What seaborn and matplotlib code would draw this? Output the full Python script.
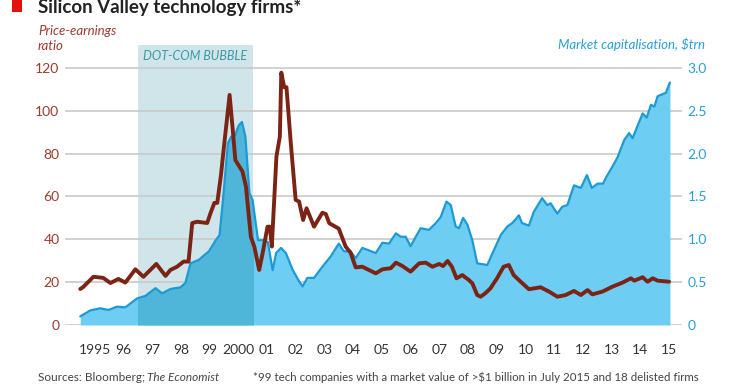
import numpy as np
import pandas as pd
import seaborn as sns
import matplotlib
matplotlib.use('Agg')
from matplotlib import pyplot as plt
from matplotlib.patches import Rectangle

# price-earnings ratio (left axis)
pe_year = [1995.0, 1995.1, 1995.46, 1995.8, 1996.05, 1996.33, 1996.57, 1996.92, 1997.2, 1997.65,
           1997.97, 1998.14, 1998.37, 1998.6, 1998.77, 1998.9, 1999.07, 1999.42, 1999.53, 1999.67,
           1999.77, 1999.9, 1999.97, 2000.2, 2000.3, 2000.4, 2000.65, 2000.77, 2000.94, 2001.06,
           2001.23, 2001.35, 2001.52, 2001.6, 2001.67, 2001.83, 2001.95, 2002.0, 2002.1, 2002.18,
           2002.33, 2002.5, 2002.62, 2002.76, 2002.88, 2003.14, 2003.43, 2003.55, 2003.67, 2004.0,
           2004.24, 2004.41, 2004.59, 2004.82, 2005.29, 2005.52, 2005.81, 2005.99, 2006.22, 2006.5,
           2006.8, 2007.03, 2007.26, 2007.5, 2007.63, 2007.79, 2007.94, 2008.1, 2008.3, 2008.53,
           2008.65, 2008.82, 2008.94, 2009.1, 2009.28, 2009.51, 2009.74, 2009.92, 2010.09, 2010.27,
           2010.62, 2011.03, 2011.32, 2011.61, 2011.9, 2012.19, 2012.43, 2012.66, 2012.83, 2013.18,
           2013.53, 2013.88, 2014.17, 2014.29, 2014.58, 2014.75, 2014.93, 2015.1, 2015.5]
pe_ratio = [16.8, 17.7, 22.5, 22.0, 19.6, 21.5, 19.8, 26.0, 22.5, 28.5,
            22.9, 25.7, 27.2, 29.6, 29.6, 47.6, 48.2, 47.6, 52.0, 57.0,
            57.0, 70.0, 79.0, 107.4, 92.6, 77.0, 71.6, 64.6, 41.2, 36.6,
            25.7, 33.5, 45.9, 45.9, 36.6, 78.6, 88.0, 117.8, 111.0, 111.0,
            85.0, 58.4, 57.6, 49.0, 54.5, 45.9, 52.4, 51.8, 47.5, 45.0,
            36.6, 33.8, 26.9, 27.2, 24.1, 26.0, 26.5, 29.1, 27.5, 24.9,
            28.8, 29.1, 27.2, 28.5, 27.5, 29.9, 27.2, 21.8, 23.3, 21.0,
            19.5, 14.0, 13.2, 14.8, 17.1, 21.8, 27.2, 28.0, 23.3, 21.0,
            16.7, 17.6, 15.6, 13.2, 14.0, 15.9, 14.0, 16.3, 14.3, 15.6,
            17.9, 19.8, 21.8, 20.7, 22.3, 20.2, 21.8, 20.7, 20.2]

# market capitalisation, $trn (right axis)
cap_year = [1995.0, 1995.35, 1995.7, 1995.98, 1996.28, 1996.57, 1996.98, 1997.27, 1997.62, 1997.85,
            1998.14, 1998.49, 1998.66, 1998.84, 1999.13, 1999.3, 1999.48, 1999.72, 1999.85, 1999.97,
            2000.14, 2000.26, 2000.37, 2000.52, 2000.63, 2000.75, 2000.89, 2001.0, 2001.19, 2001.36,
            2001.53, 2001.7, 2001.82, 2001.99, 2002.16, 2002.4, 2002.62, 2002.74, 2002.91, 2003.14,
            2003.43, 2003.72, 2004.0, 2004.18, 2004.41, 2004.59, 2004.82, 2005.29, 2005.52, 2005.75,
            2005.99, 2006.16, 2006.33, 2006.5, 2006.85, 2007.14, 2007.38, 2007.55, 2007.75, 2007.9,
            2008.07, 2008.19, 2008.33, 2008.48, 2008.65, 2008.82, 2009.0, 2009.17, 2009.41, 2009.64,
            2009.87, 2010.04, 2010.15, 2010.27, 2010.38, 2010.62, 2010.79, 2011.08, 2011.26, 2011.38,
            2011.49, 2011.61, 2011.78, 2011.96, 2012.19, 2012.43, 2012.64, 2012.81, 2013.01, 2013.2,
            2013.32, 2013.53, 2013.71, 2013.94, 2014.11, 2014.23, 2014.41, 2014.58, 2014.72, 2014.87,
            2014.99, 2015.1, 2015.39, 2015.53]
cap_trn = [0.10, 0.17, 0.195, 0.175, 0.214, 0.206, 0.31, 0.34, 0.43, 0.37,
           0.42, 0.44, 0.49, 0.72, 0.76, 0.81, 0.86, 0.99, 1.05, 1.46,
           2.12, 2.20, 2.20, 2.33, 2.37, 2.20, 1.54, 1.46, 0.99, 0.99,
           0.97, 0.64, 0.84, 0.90, 0.84, 0.64, 0.51, 0.45, 0.55, 0.55,
           0.68, 0.80, 0.95, 0.86, 0.86, 0.78, 0.90, 0.84, 0.96, 0.95,
           1.07, 1.03, 1.03, 0.92, 1.13, 1.11, 1.19, 1.26, 1.44, 1.40,
           1.15, 1.13, 1.25, 1.17, 0.99, 0.72, 0.71, 0.70, 0.88, 1.05,
           1.15, 1.19, 1.23, 1.28, 1.19, 1.16, 1.32, 1.48, 1.40, 1.42,
           1.36, 1.30, 1.38, 1.40, 1.63, 1.60, 1.75, 1.60, 1.65, 1.65,
           1.73, 1.85, 1.96, 2.16, 2.24, 2.18, 2.33, 2.47, 2.42, 2.57,
           2.55, 2.67, 2.71, 2.83]

year_ticks = list(range(1995, 2016))
year_labels = ['1995', '96', '97', '98', '99', '2000', '01', '02', '03', '04', '05',
               '06', '07', '08', '09', '10', '11', '12', '13', '14', '15']
pe_ticks = [0, 20, 40, 60, 80, 100, 120]
cap_ticks = [0, 0.5, 1.0, 1.5, 2.0, 2.5, 3.0]
bubble_start, bubble_end = 1997, 2001

RED = '#7b2416'
RED_TXT = '#9c3b2b'
BLUE = '#1b9ad5'
FILL = '#6dcdf3'
FILL_DARK = '#4fb6d9'
SHADE = '#cfe5e9'

sns.set_theme(style='white')
plt.rcParams['font.family'] = ['Lato', 'DejaVu Sans']

W, H = 740, 389
fig = plt.figure(figsize=(W / 100, H / 100), dpi=100)
ax = fig.add_axes([65 / W, 1 - 325 / H, (682 - 65) / W, (325 - 45) / H])
ax2 = ax.twinx()

# market cap lives on the bottom axes, yaxis on the right
ax.axvspan(bubble_start, bubble_end, color=SHADE, lw=0, zorder=0.2)
ax.fill_between(cap_year, cap_trn, color=FILL, lw=0, zorder=1)
dark = ax.fill_between(cap_year, cap_trn, color=FILL_DARK, lw=0, zorder=1.1)
dark.set_clip_path(Rectangle((bubble_start, 0), bubble_end - bubble_start, 10,
                             transform=ax.transData))
sns.lineplot(x=cap_year, y=cap_trn, ax=ax, color=BLUE, lw=1.6, zorder=2)

# P/E line on the twin axes, on top
sns.lineplot(x=pe_year, y=pe_ratio, ax=ax2, color=RED, lw=2.8, zorder=3)

ax.set_xlim(1994.47, 2015.95)
ax.set_ylim(0, 3.268)
ax2.set_ylim(0, 130.7)

ax.set_yticks(cap_ticks)
ax.set_yticklabels(['0', '0.5', '1.0', '1.5', '2.0', '2.5', '3.0'])
ax2.set_yticks(pe_ticks)
ax2.set_yticklabels([str(t) for t in pe_ticks])
ax.yaxis.tick_right()
ax2.yaxis.tick_left()
ax.set_axisbelow(True)
ax.yaxis.grid(True, color='#c9c9c9', lw=1.2)
ax.xaxis.grid(False)
ax2.grid(False)

ax.tick_params(axis='y', length=0, pad=4, labelsize=10, labelcolor='#2a9fd6')
ax2.tick_params(axis='y', length=0, pad=4, labelsize=10, labelcolor=RED_TXT)

ax.set_xticks(year_ticks + [2015.55])
ax.set_xticklabels([])
ax.set_xticks([y + 0.5 for y in year_ticks], minor=True)
ax.set_xticklabels(year_labels, minor=True)
ax.tick_params(axis='x', which='major', length=6, width=1.2, color='#888888', direction='out')
ax.tick_params(axis='x', which='minor', length=0, pad=14, labelsize=10, labelcolor='#333333')

for a in (ax, ax2):
    for s in a.spines.values():
        s.set_visible(False)
    a.set_xlabel('')
    a.set_ylabel('')

ax.text(1999.0, 125.5 / 40, 'DOT-COM BUBBLE', ha='center', va='center', fontsize=9,
        style='italic', color='#3d9aa6')

# header and footer
fig.patches.append(Rectangle((12 / W, 1 - 12 / H), 10 / W, 12 / H, transform=fig.transFigure,
                             color='#e3120b', lw=0))
fig.text(38 / W, 1 - 13 / H, 'Silicon Valley technology firms*', fontsize=13.5, fontweight='bold',
         color='#222222', va='baseline')
fig.text(38 / W, 1 - 35 / H, 'Price-earnings', fontsize=9.5, style='italic', color=RED_TXT,
         va='baseline')
fig.text(38 / W, 1 - 50 / H, 'ratio', fontsize=9.5, style='italic', color=RED_TXT, va='baseline')
fig.text(705 / W, 1 - 49 / H, 'Market capitalisation, $trn', fontsize=9.5, style='italic',
         color='#2a9fd6', ha='right', va='baseline')
fig.text(38 / W, 1 - 381 / H, 'Sources: Bloomberg; ', fontsize=8.5, color='#444444', va='baseline')
fig.text(147 / W, 1 - 381 / H, 'The Economist', fontsize=8.5, style='italic', color='#444444',
         va='baseline')
fig.text(253 / W, 1 - 381 / H,
         '*99 tech companies with a market value of >$1 billion in July 2015 and 18 delisted firms',
         fontsize=8.3, color='#444444', va='baseline')

fig.savefig('out.png', dpi=100)
